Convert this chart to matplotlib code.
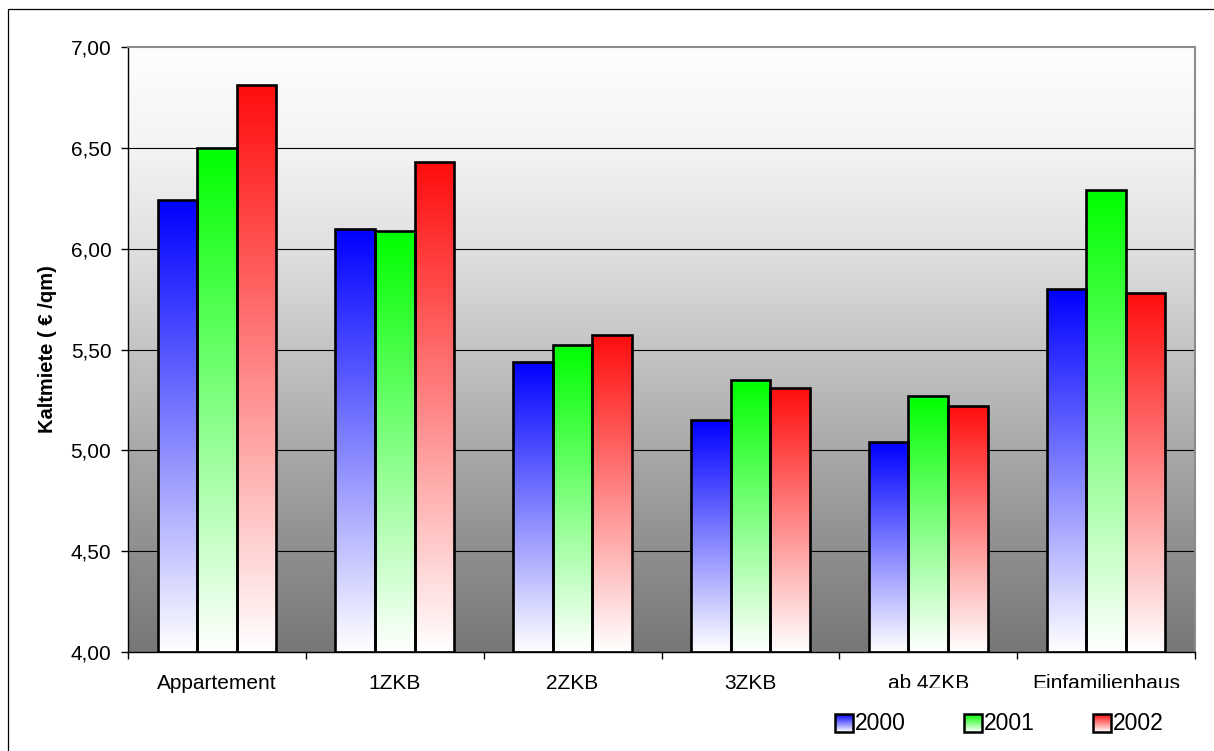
import numpy as np
import matplotlib
matplotlib.use("Agg")
import matplotlib.pyplot as plt
from matplotlib.patches import Rectangle
from matplotlib.ticker import FixedLocator, FuncFormatter

plt.rcParams["font.family"] = ["Liberation Sans", "DejaVu Sans"]

# ------------------------------------------
# Daten: Kaltmiete je Wohnungstyp (€/qm)
# ------------------------------------------
categories = ["Appartement", "1ZKB", "2ZKB", "3ZKB", "ab 4ZKB", "Einfamilienhaus"]
years = ["2000", "2001", "2002"]
miete_2000 = [6.24, 6.10, 5.44, 5.15, 5.04, 5.80]
miete_2001 = [6.50, 6.09, 5.52, 5.35, 5.27, 6.29]
miete_2002 = [6.81, 6.43, 5.57, 5.31, 5.22, 5.78]
series = [miete_2000, miete_2001, miete_2002]

bar_colors = [(0.0, 0.0, 1.0), (0.0, 1.0, 0.0), (1.0, 0.05, 0.05)]
Y_MIN, Y_MAX = 4.0, 7.0


def gradient(color, n=256):
    # Verlauf: oben volle Farbe, unten weiß
    t = np.linspace(0, 1, n)[:, None]
    c = np.array(color)[None, :]
    img = c * (1 - t) + np.ones(3)[None, :] * t
    return img[:, None, :]


fig = plt.figure(figsize=(12.14, 7.51), dpi=100)
W, H = 1214, 751

# Rahmen um das ganze Diagramm
fig.patches.append(Rectangle((8 / W, -0.05), 1.1, 1 - 9 / H + 0.05,
                             transform=fig.transFigure, fill=False,
                             edgecolor="black", linewidth=0.9, zorder=0))

ax = fig.add_axes([128 / W, (H - 652) / H, (1195 - 128) / W, (652 - 47) / H])

# Hintergrund: Grauverlauf von oben hell nach unten dunkel
t = np.linspace(0, 1, 256)
grey = np.interp(t, [0, 0.17, 0.33, 0.5, 0.67, 0.83, 1.0],
                 [254, 243, 224, 196, 168, 143, 119]) / 255.0
bg = np.repeat(grey[:, None, None], 3, axis=2)
ax.imshow(bg, extent=(0, 6, Y_MIN, Y_MAX), aspect="auto", zorder=0,
          interpolation="bilinear")

# Gitterlinien
for yv in np.arange(4.5, 7.0, 0.5):
    ax.axhline(yv, color="black", linewidth=0.8, zorder=1)

# Balken mit Farbverlauf
bar_w = 2 / 9
x_center = np.arange(len(categories)) + 0.5
for j, (vals, col) in enumerate(zip(series, bar_colors)):
    xs = x_center + (j - 1) * bar_w
    bars = ax.bar(xs, np.array(vals) - Y_MIN, bottom=Y_MIN, width=bar_w,
                  facecolor="none", edgecolor="black", linewidth=1.9, zorder=3)
    for rect in bars:
        x0 = rect.get_x()
        im = ax.imshow(gradient(col), extent=(x0, x0 + bar_w, Y_MIN, rect.get_y() + rect.get_height()),
                       aspect="auto", zorder=2, interpolation="bilinear")
        im.set_clip_path(rect)

ax.set_xlim(0, 6)
ax.set_ylim(Y_MIN, Y_MAX)

# Achsen
ax.spines["top"].set_color("#8c8c8c")
ax.spines["right"].set_color("#8c8c8c")
ax.spines["top"].set_linewidth(1.5)
ax.spines["right"].set_linewidth(1.5)
ax.spines["left"].set_linewidth(1.0)
ax.spines["bottom"].set_linewidth(1.0)

ax.yaxis.set_major_locator(FixedLocator(np.arange(4.0, 7.01, 0.5)))
ax.yaxis.set_major_formatter(FuncFormatter(lambda v, p: f"{v:.2f}".replace(".", ",")))
ax.tick_params(axis="y", direction="out", length=5, width=1, pad=7, labelsize=15)

ax.xaxis.set_major_locator(FixedLocator(np.arange(0, 7)))
ax.xaxis.set_minor_locator(FixedLocator(x_center))
ax.xaxis.set_major_formatter(FuncFormatter(lambda v, p: ""))
ax.set_xticklabels(categories, minor=True)
ax.tick_params(axis="x", which="major", direction="out", length=5, width=1)
ax.tick_params(axis="x", which="minor", length=0, pad=16, labelsize=15)

ax.set_ylabel("Kaltmiete ( € /qm)", fontsize=14.5, fontweight="bold", labelpad=10)

# Legende unten rechts (weißer Kasten)
lax = fig.add_axes([820 / W, 0, (1195 - 820) / W, (H - 688) / H], zorder=5)
lax.set_facecolor("white")
lax.set_xticks([])
lax.set_yticks([])
for s in lax.spines.values():
    s.set_visible(False)

leg_x = [835, 964, 1093]
for lx, year, col in zip(leg_x, years, bar_colors):
    lax.imshow(gradient(col), extent=(lx, lx + 18, 732, 714), aspect="auto",
               interpolation="bilinear", zorder=1)
    lax.add_patch(Rectangle((lx, 714), 18, 18, fill=False, edgecolor="black",
                            linewidth=1.8, zorder=2))
    lax.text(lx + 20, 723, year, fontsize=16.5, va="center", ha="left")
lax.set_xlim(820, 1195)
lax.set_ylim(751, 688)

fig.savefig("out.png", dpi=100)
